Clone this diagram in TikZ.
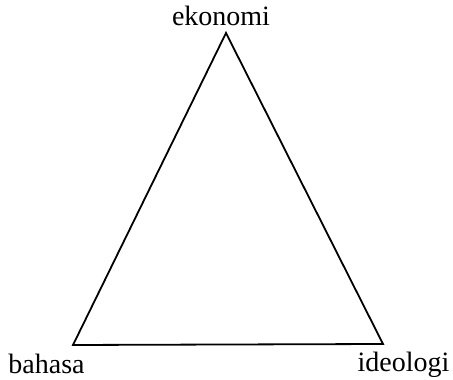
\documentclass[tikz,border=0pt]{standalone}
\usepackage{fontspec}
\setmainfont{Liberation Serif}
\begin{document}
\begin{tikzpicture}[x=1pt,y=1pt,
  lbl/.style={inner sep=0pt, anchor=base, font=\fontsize{28}{32}\selectfont},
  edge/.style={line width=1.8pt, line join=miter}]
\useasboundingbox (0,0) rectangle (453,380);
\fill[white] (0,0) rectangle (453,380);
\coordinate (top) at (226,347);
\coordinate (bl) at (73,35);
\coordinate (br) at (383,36);
\node[lbl] (eko) at (221,354) {ekonomi};
\node[lbl] (bah) at (46.5,6.5) {bahasa};
\node[lbl] (ide) at (403.5,8) {ideologi};
\draw[edge] (top) -- (bl) -- (br) -- cycle;
\end{tikzpicture}
\end{document}
